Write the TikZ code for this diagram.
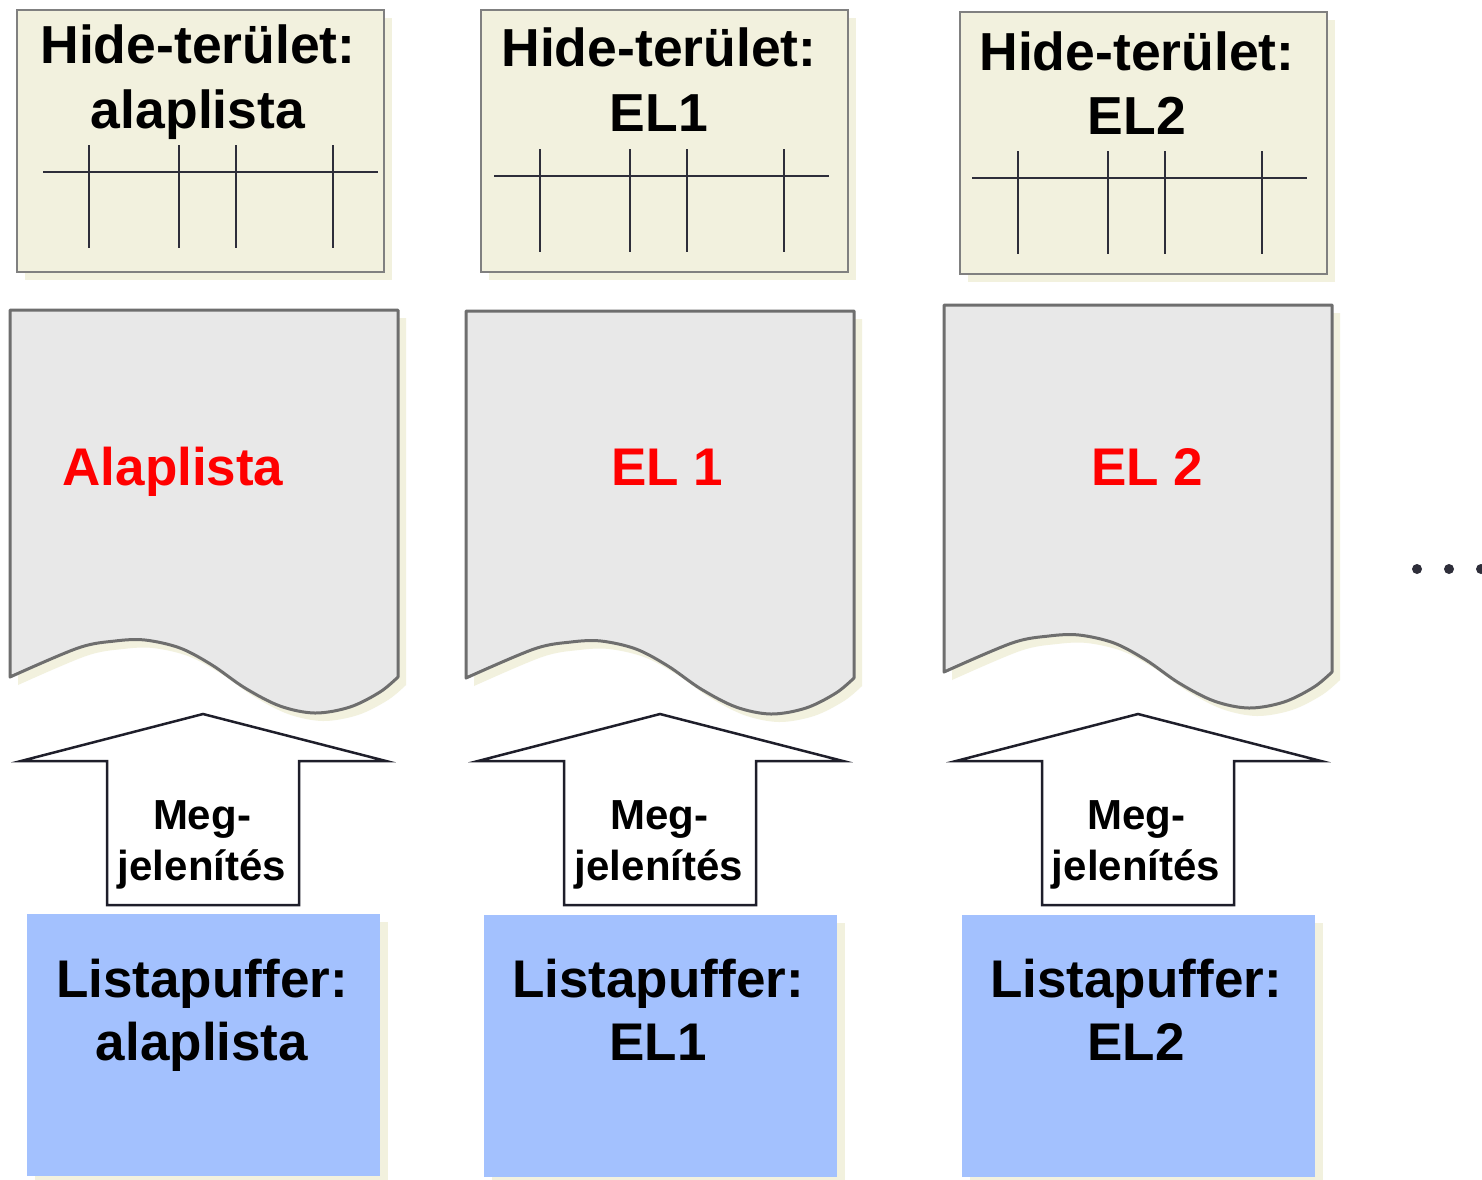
\documentclass[tikz,border=0pt]{standalone}
\usepackage{fontspec}
\setmainfont{Liberation Sans}
\begin{document}
\begin{tikzpicture}[x=1pt,y=-1pt,
  cream/.style={fill=creamc},
  hidebox/.style={fill=creamc,draw=grayb,line width=2.5pt},
  tick/.style={draw=darkl,line width=2.8pt},
  docsh/.style={fill=docf,draw=docb,line width=3pt,line join=round},
  bigarrow/.style={fill=white,draw=arrb,line width=2.5pt,line join=miter},
  bufbox/.style={fill=bluef},
  hd/.style={font=\fontsize{53.5}{60}\selectfont\bfseries,inner sep=0pt,anchor=base},
  lb/.style={font=\fontsize{53}{60}\selectfont\bfseries,inner sep=0pt,anchor=base},
  mg/.style={font=\fontsize{42}{50}\selectfont\bfseries,inner sep=0pt,anchor=base},
  rd/.style={font=\fontsize{53}{60}\selectfont\bfseries,text=red,inner sep=0pt,anchor=base},
  dot/.style={circle,fill=darkl,minimum size=10pt,inner sep=0pt}
]
\definecolor{creamc}{HTML}{F2F1DE}
\definecolor{grayb}{HTML}{808080}
\definecolor{darkl}{HTML}{2E2E3A}
\definecolor{docf}{HTML}{E8E8E8}
\definecolor{docb}{HTML}{6E6E6E}
\definecolor{arrb}{HTML}{1E1E2A}
\definecolor{bluef}{HTML}{A3C1FE}
\useasboundingbox (0,0) rectangle (1482,1179);
\fill[white] (0,0) rectangle (1482,1179);

% ---------- macros for repeated shapes ----------
% #1,#2 box shift; #3,#4 tick shift
\newcommand{\myhide}[4]{%
 \begin{scope}[shift={(#1,#2)}]
  \fill[cream] (25,18) rectangle (392,280);
  \draw[hidebox] (17,10) rectangle (384,272);
 \end{scope}
 \begin{scope}[shift={(#3,#4)}]
  \draw[tick] (43,172) -- (378,172);
  \foreach \xx in {89,179,236,333}{\draw[tick] (\xx,145) -- (\xx,248);}
 \end{scope}}
\newcommand{\mydocpath}{(10,310) -- (398,310) --
   plot[smooth,tension=0.55] coordinates {(398,677) (380,692) (350,707) (315,713) (280,706) (245,688) (212,665) (180,648) (145,640) (115,641) (78,648) (10,677)} -- cycle}
\newcommand{\mydoc}[2]{%
 \begin{scope}[shift={(#1,#2)}]
  \begin{scope}[shift={(8,8)}]\fill[cream] \mydocpath;\end{scope}
  \draw[docsh] \mydocpath;
 \end{scope}}
\newcommand{\myarrow}[1]{%
 \begin{scope}[shift={(#1,0)}]
  \draw[bigarrow] (203,714) -- (386,761) -- (299,761) -- (299,905) -- (107,905) -- (107,761) -- (21,761) -- cycle;
 \end{scope}}
\newcommand{\mybuf}[2]{%
 \begin{scope}[shift={(#1,#2)}]
  \fill[cream] (35,922) rectangle (388,1184);
  \fill[bufbox] (27,914) rectangle (380,1176);
 \end{scope}}

% ---------- column 1 ----------
\myhide{0}{0}{0}{0}
\mydoc{0}{0}
\myarrow{0}
\mybuf{0}{0}
% ---------- column 2 ----------
\myhide{464}{0}{451}{4}
\mydoc{456}{1}
\myarrow{457}
\mybuf{457}{1}
% ---------- column 3 ----------
\myhide{943}{2}{929}{6}
\mydoc{934}{-5}
\myarrow{935}
\mybuf{935}{1}

% ---------- texts ----------
\node[hd] (h1a) at (198,63) {Hide-terület:};
\node[hd] (h1b) at (198,128) {alaplista};
\node[hd] (h2a) at (659,66) {Hide-terület:};
\node[hd] (h2b) at (659,131) {EL1};
\node[hd] (h3a) at (1137,70) {Hide-terület:};
\node[hd] (h3b) at (1137,134) {EL2};

\node[rd] (d1) at (173,485) {Alaplista};
\node[rd] (d2) at (667,485) {EL 1};
\node[rd] (d3) at (1147,485) {EL 2};

\node[mg] (m1a) at (202,829) {Meg-};
\node[mg] (m1b) at (202,880) {jelenítés};
\node[mg] (m2a) at (659,829) {Meg-};
\node[mg] (m2b) at (659,880) {jelenítés};
\node[mg] (m3a) at (1136,829) {Meg-};
\node[mg] (m3b) at (1136,880) {jelenítés};

\node[lb] (l1a) at (202,997) {Listapuffer:};
\node[lb] (l1b) at (202,1060) {alaplista};
\node[lb] (l2a) at (658,997) {Listapuffer:};
\node[lb] (l2b) at (658,1060) {EL1};
\node[lb] (l3a) at (1136,997) {Listapuffer:};
\node[lb] (l3b) at (1136,1060) {EL2};

% ---------- ellipsis ----------
\node[dot] (e1) at (1417,569) {};
\node[dot] (e2) at (1449,569) {};
\node[dot] (e3) at (1481,569) {};
\end{tikzpicture}
\end{document}
